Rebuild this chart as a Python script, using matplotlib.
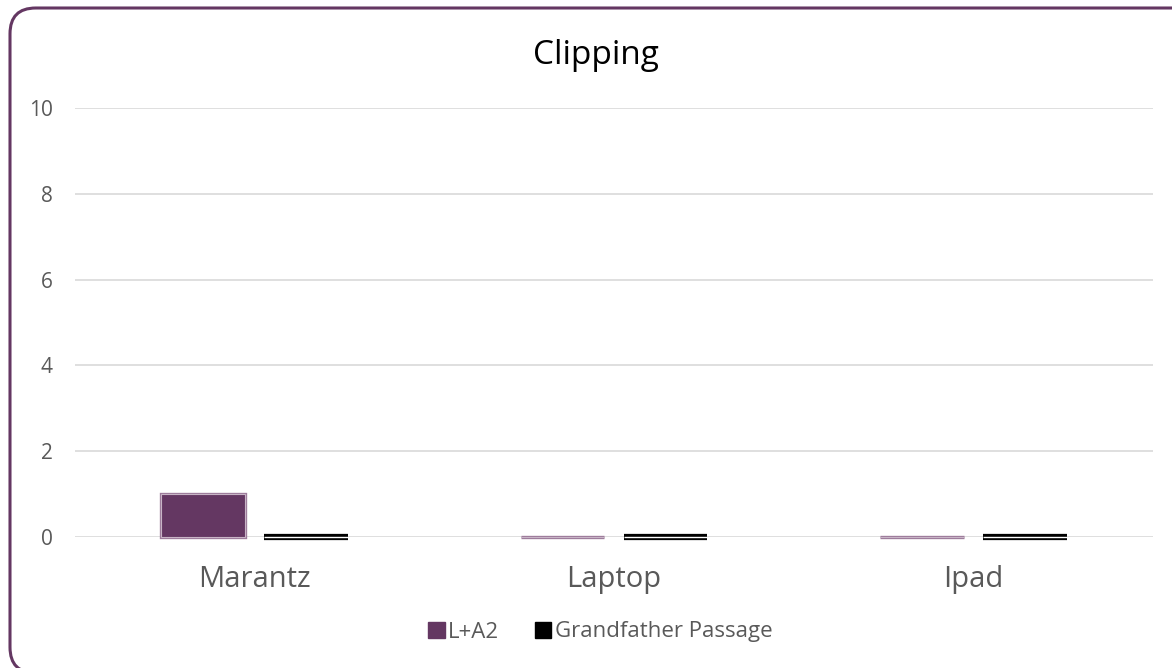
import matplotlib
matplotlib.use("Agg")
import matplotlib.pyplot as plt
import numpy as np
from matplotlib.patches import FancyBboxPatch, Patch

categories = ["Marantz", "Laptop", "Ipad"]
series_names = ["L+A2", "Grandfather Passage"]
la2 = [1, 0, 0]
grandfather = [0, 0, 0]
yticks = [0, 2, 4, 6, 8, 10]

purple = "#643762"
font = "Open Sans"
plt.rcParams['font.family'] = [font, 'DejaVu Sans']

W, H = 1172, 668
fig = plt.figure(figsize=(W / 100, H / 100), dpi=100)
ax = fig.add_axes([75 / W, 1 - 537 / H, (1153 - 75) / W, (537 - 108) / H])

x = np.arange(len(categories))
bw = 0.233
off = 0.143
ax.bar(x - off, la2, bw, color=purple, edgecolor="#9c7a9a", linewidth=2.4, zorder=3, clip_on=False)
ax.bar(x - off, la2, bw, color=purple, edgecolor="#c8b4c6", linewidth=0.8, zorder=4, clip_on=False)
ax.bar(x + off, grandfather, bw, color="white", edgecolor="black", linewidth=4.5, zorder=3, clip_on=False)
ax.bar(x + off, grandfather, bw, color="white", edgecolor="white", linewidth=1.0, zorder=4, clip_on=False)

ax.set_xlim(-0.5, len(categories) - 0.5)
ax.set_ylim(0, 10)
ax.set_yticks(yticks)
ax.set_yticklabels([str(v) for v in yticks], fontsize=15, color="#595959")
ax.set_xticks(x)
ax.set_xticklabels(categories, fontsize=21, color="#595959")
ax.tick_params(axis="both", length=0)
ax.tick_params(axis="y", pad=16)
ax.tick_params(axis="x", pad=20)
ax.grid(axis="y", color="#d9d9d9", linewidth=1.2, zorder=0)
for s in ax.spines.values():
    s.set_visible(False)

fig.text(596 / W, 1 - 55 / H, "Clipping", ha="center", va="center", fontsize=24, color="black")

handles = [Patch(facecolor=purple, edgecolor=purple),
           Patch(facecolor="black", edgecolor="black")]
leg = fig.legend(handles, series_names, loc="center", bbox_to_anchor=(600 / W, 1 - 632 / H),
                 ncol=2, frameon=False, fontsize=16, handlelength=0.75, handleheight=0.75,
                 handletextpad=0.15, columnspacing=1.6)
for t in leg.get_texts():
    t.set_color("#595959")

frame = FancyBboxPatch((10 / W, -5 / H), (1200 - 10) / W, (660 + 5) / H,
                       boxstyle="round,pad=0,rounding_size=0.022",
                       transform=fig.transFigure, facecolor="none",
                       edgecolor=purple, linewidth=2.2, mutation_aspect=W / H)
fig.patches.append(frame)

fig.savefig("out.png", dpi=100)
